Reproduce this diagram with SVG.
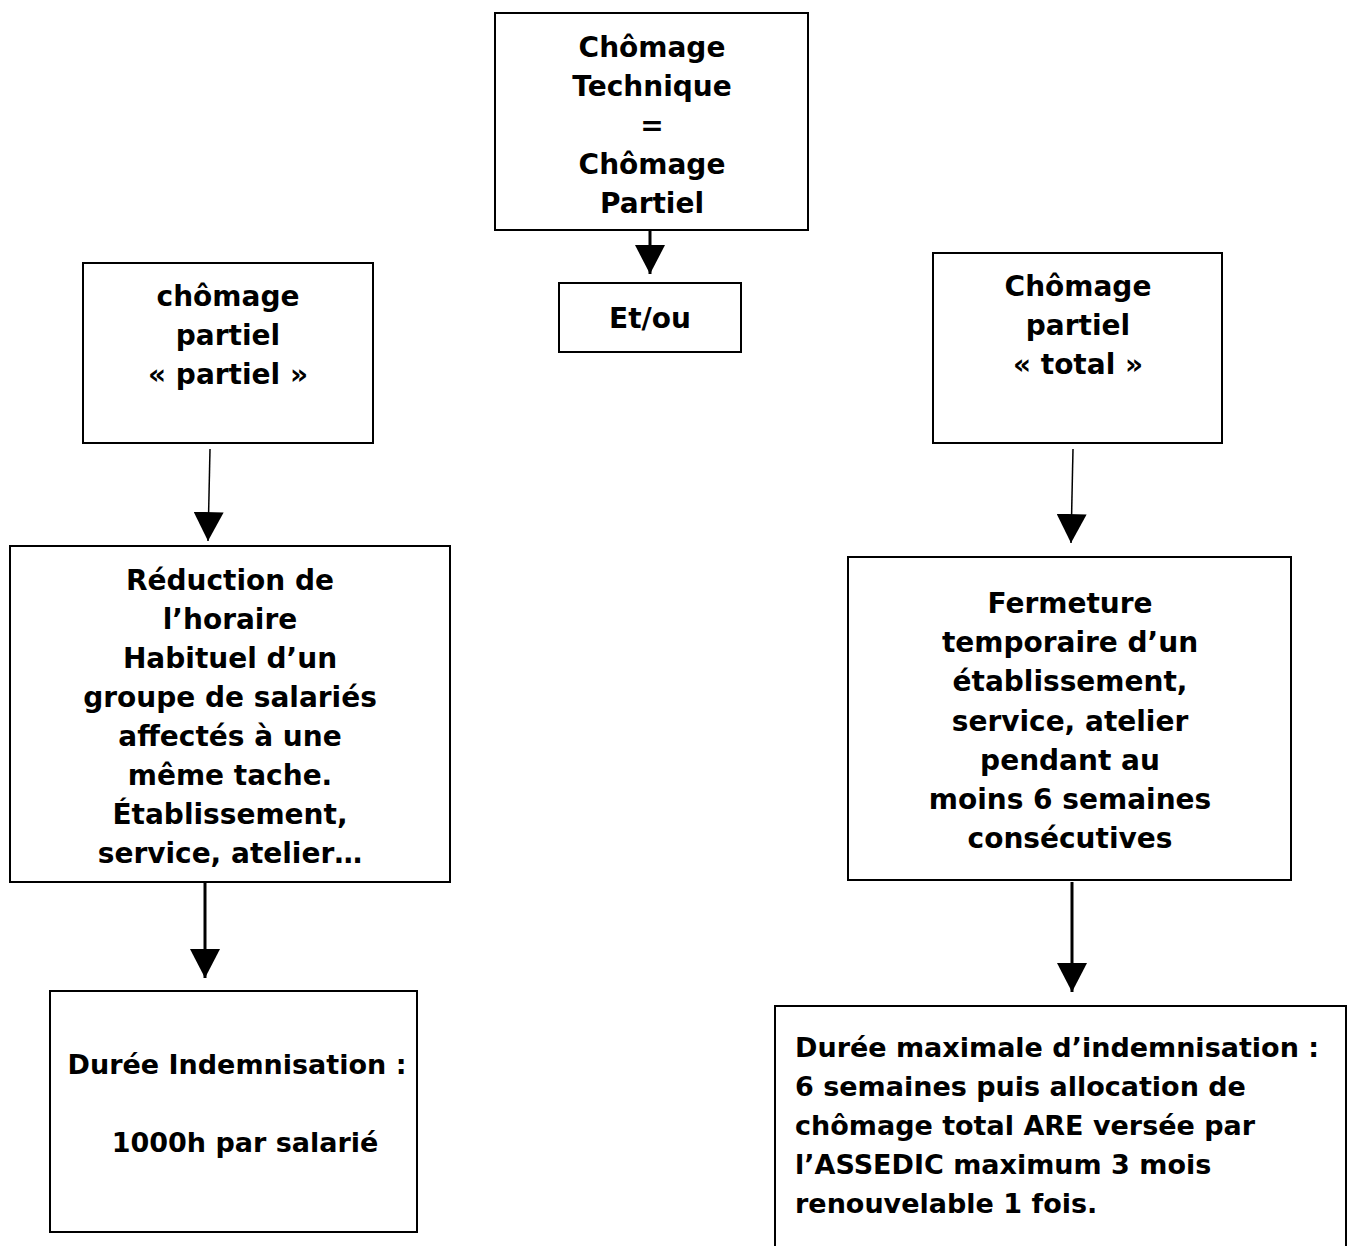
<svg xmlns="http://www.w3.org/2000/svg" width="1351" height="1246" viewBox="0 0 1351 1246">
<defs>
<style>
.box{fill:#fff;stroke:#000;stroke-width:2}
.t{font-family:"DejaVu Sans","Liberation Sans",sans-serif;font-weight:bold;font-size:28px;fill:#000;text-anchor:middle}
.s{font-size:27px}
.l{text-anchor:start}
.c{stroke:#000;fill:none}
</style>
<marker id="ah" markerUnits="userSpaceOnUse" markerWidth="30" markerHeight="30" viewBox="0 0 28 28" refX="27" refY="14" orient="auto">
<path d="M0,0 L27,14 L0,28 Z" fill="#000"/>
</marker>
</defs>
<rect width="1351" height="1246" fill="#fff"/>
<g id="connectors">
<line class="c" x1="650" y1="230" x2="650" y2="274" stroke-width="3" marker-end="url(#ah)"/>
<line class="c" x1="210" y1="449" x2="208" y2="541" stroke-width="1.5" marker-end="url(#ah)"/>
<line class="c" x1="1073" y1="449" x2="1071" y2="543" stroke-width="1.5" marker-end="url(#ah)"/>
<line class="c" x1="205" y1="883" x2="205" y2="978" stroke-width="3" marker-end="url(#ah)"/>
<line class="c" x1="1072" y1="882" x2="1072" y2="992" stroke-width="3" marker-end="url(#ah)"/>
</g>
<g id="n-technique">
<rect class="box" x="495" y="13" width="313" height="217"/>
<text class="t" x="652" y="57">Chômage</text>
<text class="t" x="652" y="96">Technique</text>
<text class="t" x="652" y="135">=</text>
<text class="t" x="652" y="174">Chômage</text>
<text class="t" x="652" y="213">Partiel</text>
</g>
<g id="n-etou">
<rect class="box" x="559" y="283" width="182" height="69"/>
<text class="t" x="650" y="328">Et/ou</text>
</g>
<g id="n-partiel">
<rect class="box" x="83" y="263" width="290" height="180"/>
<text class="t" x="228" y="306">chômage</text>
<text class="t" x="228" y="345">partiel</text>
<text class="t" x="228" y="384">« partiel »</text>
</g>
<g id="n-total">
<rect class="box" x="933" y="253" width="289" height="190"/>
<text class="t" x="1078" y="296">Chômage</text>
<text class="t" x="1078" y="335">partiel</text>
<text class="t" x="1078" y="374">« total »</text>
</g>
<g id="n-reduction">
<rect class="box" x="10" y="546" width="440" height="336"/>
<text class="t" x="230" y="590">Réduction de</text>
<text class="t" x="230" y="629">l’horaire</text>
<text class="t" x="230" y="668">Habituel d’un</text>
<text class="t" x="230" y="707">groupe de salariés</text>
<text class="t" x="230" y="746">affectés à une</text>
<text class="t" x="230" y="785">même tache.</text>
<text class="t" x="230" y="824">Établissement,</text>
<text class="t" x="230" y="863">service, atelier…</text>
</g>
<g id="n-fermeture">
<rect class="box" x="848" y="557" width="443" height="323"/>
<text class="t" x="1070" y="613">Fermeture</text>
<text class="t" x="1070" y="652">temporaire d’un</text>
<text class="t" x="1070" y="691">établissement,</text>
<text class="t" x="1070" y="731">service, atelier</text>
<text class="t" x="1070" y="770">pendant au</text>
<text class="t" x="1070" y="809">moins 6 semaines</text>
<text class="t" x="1070" y="848">consécutives</text>
</g>
<g id="n-duree1">
<rect class="box" x="50" y="991" width="367" height="241"/>
<text class="t s" x="237" y="1074">Durée Indemnisation :</text>
<text class="t s" x="245" y="1152">1000h par salarié</text>
</g>
<g id="n-duree2">
<rect class="box" x="775" y="1006" width="571" height="260"/>
<text class="t s l" x="795" y="1057">Durée maximale d’indemnisation :</text>
<text class="t s l" x="795" y="1096">6 semaines puis allocation de</text>
<text class="t s l" x="795" y="1135">chômage total ARE versée par</text>
<text class="t s l" x="795" y="1174">l’ASSEDIC maximum 3 mois</text>
<text class="t s l" x="795" y="1213">renouvelable 1 fois.</text>
</g>
</svg>
